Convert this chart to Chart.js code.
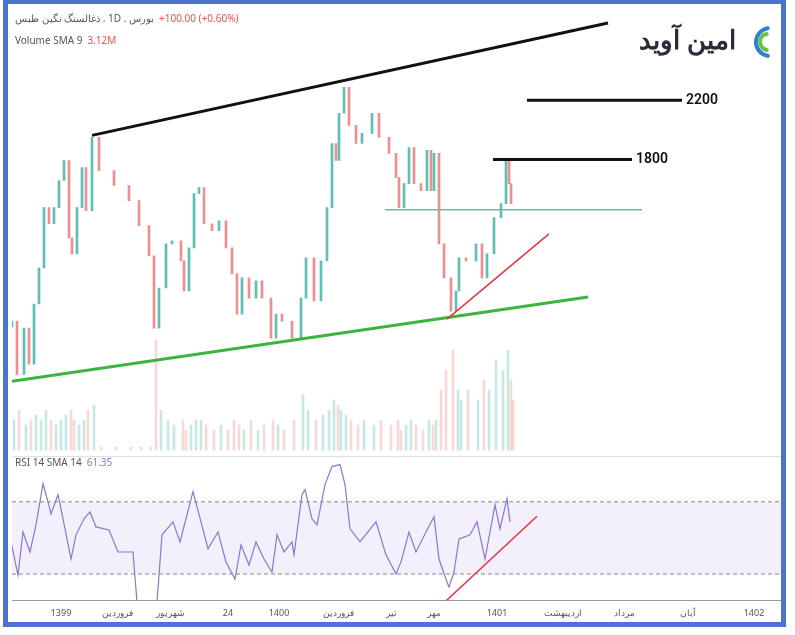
<!DOCTYPE html>
<html lang="fa">
<head>
<meta charset="UTF-8">
<title>ذغالسنگ نگین طبس</title>
<style>
  html, body { margin: 0; padding: 0; background: #fff; }
  #wrap { position: relative; width: 795px; height: 635px; }
  #frame { position: absolute; left: 3px; top: 0; width: 783px; height: 627px; border: 5px solid #4a74d0; border-top-width: 4px; pointer-events: none; box-sizing: border-box; }
</style>
</head>
<body>
<div id="wrap">
  <canvas id="myChart01" width="795" height="635"></canvas>
  <div id="frame"></div>
</div>
<script src="https://cdn.jsdelivr.net/npm/chart.js"></script>
<script>
// روزها (موقعیت افقی) و قیمت پایانی
var candleDays = [13,18,25,30,35,40,45,50,55,60,65,70,73,78,83,87,93,100,115,130,140,150,155,160,167,173,182,185,190,195,200,205,213,220,227,233,238,243,250,257,263,272,277,283,293,302,307,315,322,328,333,337,340,345,350,357,363,373,380,390,397,400,405,410,415,422,428,432,435,440,445,452,457,460,467,477,483,488,495,502,507,510,512];
var closes = [708,349,661,417,824,1068,1475,1366,1475,1658,1793,1271,1163,1475,1746,1454,1949,1725,1624,1522,1353,1149,661,932,1230,1251,1115,912,1203,1569,1610,1366,1319,1386,1203,1027,756,1000,864,980,864,593,756,708,593,864,1136,844,1115,1475,1908,1793,2112,2288,2030,1908,1976,2112,1949,1841,1678,1475,1637,1881,1637,1590,1861,1590,1841,1230,1000,776,912,1136,1115,1230,1000,1163,1407,1502,1793,1637,1502];
// حجم (میلیون)
var volumes = [3,4,2.5,3,3.5,3,4,3,2.5,3,3.5,4,3,2.5,3,4,4.5,0.3,0.3,0.3,0.3,0.3,11,4,3,2.5,3,2,2.5,3,3,2.5,2,2.5,2,3,2.5,2,3,2,2.5,3,2.5,2,3,5.5,4,3,3.5,4,5,4.5,4,3.5,3,2.5,3,2.5,3,2.5,3,2,2.5,3,2.5,2,3,2.5,3,6,8,10,6,5,6,5,7,6,9,8,10,7,5];
// RSI
var rsiDays = [11,18,23,30,36,43,48,51,58,63,71,76,84,90,96,109,118,133,137,142,157,162,173,180,193,201,208,218,226,235,241,249,256,264,272,277,284,292,294,302,305,312,317,325,332,340,345,350,360,376,386,396,401,409,416,426,434,439,447,449,454,459,470,477,485,495,500,507,510];
var rsiValues = [47.8,29.4,53.3,42.2,57.2,80,70,63.3,73.9,60.6,38.3,51.7,60.6,64.4,56.1,54.4,42.2,42.2,14.4,8.9,14.4,51.7,58.9,47.8,75.6,58.9,43.9,53.3,36.7,27.2,46.1,35,47.8,38.3,31.1,51.7,42.2,47.8,40.6,73.9,76.7,60.6,57.2,79.5,89.5,90.6,79.5,55,47.8,58.9,40.6,30,36.7,53.3,42.2,53.3,61.7,38.3,25.6,22.8,31.1,49.4,51.7,58.9,38.3,68.3,55,71.7,58.9];
// برچسب‌های محور زمان
var tickDays = [61,117,170,228,279,338,391,434,497,563,624,688,754];
var tickLabels = ['1399','فروردین','شهریور','24','1400','فروردین','تیر','مهر','1401','اردیبهشت','مرداد','آبان','1402'];
// خطوط تحلیلی [x1, y1, x2, y2]
var upperTrend = [92,1963,608,2722];
var level2200 = [527,2200,682,2200];
var level1800 = [493,1800,632,1800];
var supportLine = [385,1461,642,1461];
var redTrend = [447,722,549,1298];
var greenTrend = [12,302,588,871];
var rsiRedTrend = [440,12,537,62];
var yellowDays = [160,295,437];
var yellowPrices = [946,736,1569];

var UP = '#5fbfb3', DOWN = '#ef8e8e';

var candleData = [], candleColors = [], volData = [], volColors = [];
candleDays.forEach(function (d, i) {
    var open = i == 0 ? closes[0] - 40 : closes[i - 1];
    var up = closes[i] >= open;
    candleData.push({ x: d, y: [open, closes[i]] });
    candleColors.push(up ? UP : DOWN);
    volData.push({ x: d, y: volumes[i] });
    volColors.push(up ? 'rgba(95,191,179,0.35)' : 'rgba(239,142,142,0.35)');
});

function seg(s, color, width, axis) {
    return {
        type: 'line', yAxisID: axis || 'y',
        data: [{ x: s[0], y: s[1] }, { x: s[2], y: s[3] }],
        borderColor: color, borderWidth: width, pointRadius: 0, order: 0
    };
}

function pair(c, x, y, t1, col1, t2, col2, rtl) {
    var w = c.measureText(t1).width;
    c.fillStyle = col1;
    if (rtl) {
        c.direction = 'rtl'; c.textAlign = 'right';
        c.fillText(t1, x + w, y);
        c.direction = 'ltr'; c.textAlign = 'left';
    } else {
        c.fillText(t1, x, y);
    }
    c.fillStyle = col2; c.fillText(t2, x + w + 5, y);
}

var panelPlugin = {
    id: 'panel',
    beforeDatasetsDraw: function (chart) {
        var c = chart.ctx, a = chart.chartArea, r = chart.scales.yr;
        var y70 = r.getPixelForValue(70), y30 = r.getPixelForValue(30);
        c.save();
        c.fillStyle = '#f3effb';
        c.fillRect(a.left, y70, a.right - a.left, y30 - y70);
        c.strokeStyle = '#888'; c.setLineDash([4, 3]); c.lineWidth = 1;
        [y70, y30].forEach(function (y) { c.beginPath(); c.moveTo(a.left, y); c.lineTo(a.right, y); c.stroke(); });
        c.setLineDash([]);
        c.strokeStyle = '#ddd';
        c.beginPath(); c.moveTo(a.left, r.top); c.lineTo(a.right, r.top); c.stroke();
        c.restore();
    },
    afterDraw: function (chart) {
        var c = chart.ctx, p = chart.scales.y, xs = chart.scales.x;
        c.save();
        c.textBaseline = 'middle'; c.textAlign = 'left';
        c.font = '10px "Noto Sans", sans-serif';
        pair(c, 15, 19, 'بورس . 1D . ذغالسنگ نگین طبس', '#555', '+100.00 (+0.60%)', '#ef5350', true);
        pair(c, 15, 41, 'Volume SMA 9', '#555', '3.12M', '#ef5350');
        pair(c, 15, 463, 'RSI 14 SMA 14', '#555', '61.35', '#8a78d0');
        c.fillStyle = '#111'; c.font = '600 14px Roboto, sans-serif';
        c.fillText('2200', xs.getPixelForValue(686), p.getPixelForValue(2200));
        c.fillText('1800', xs.getPixelForValue(636), p.getPixelForValue(1800));
        // لوگو
        c.direction = 'rtl'; c.textAlign = 'right';
        c.fillStyle = '#2b2b3a'; c.font = 'bold 26px "Noto Sans", sans-serif';
        c.fillText('امین آوید', 736, 42);
        c.direction = 'ltr';
        c.lineWidth = 4; c.lineCap = 'round';
        c.strokeStyle = '#2e7fd6';
        c.beginPath(); c.arc(770, 42, 14, Math.PI * 0.55, Math.PI * 1.45); c.stroke();
        c.strokeStyle = '#6cc04a';
        c.beginPath(); c.arc(768, 42, 8, Math.PI * 0.55, Math.PI * 1.45); c.stroke();
        c.restore();
    }
};

var datasets = [
    seg(upperTrend, '#111', 3), seg(level2200, '#111', 3), seg(level1800, '#111', 3),
    seg(supportLine, '#6ab8ae', 1.5), seg(redTrend, '#e8343f', 1.5), seg(greenTrend, '#3db43d', 3),
    seg(rsiRedTrend, '#e8343f', 1.5, 'yr'),
    {
        type: 'scatter', data: yellowDays.map(function (d, i) { return { x: d, y: yellowPrices[i] }; }),
        pointRadius: 3, pointBackgroundColor: '#f5c518', pointBorderWidth: 0, order: 0
    },
    {
        type: 'bar', data: candleData, backgroundColor: candleColors,
        barThickness: 2, yAxisID: 'y', order: 2
    },
    {
        type: 'bar', data: volData, backgroundColor: volColors,
        barThickness: 2, yAxisID: 'yv', order: 3
    },
    {
        type: 'line', data: rsiDays.map(function (d, i) { return { x: d, y: rsiValues[i] }; }),
        borderColor: '#8a78d0', borderWidth: 1.2, pointRadius: 0, yAxisID: 'yr', order: 1
    }
];

var chart01 = new Chart(document.getElementById('myChart01'), {
    data: { datasets: datasets },
    options: {
        responsive: false, animation: false,
        layout: { padding: { left: 12, right: 10, top: 20, bottom: 8 } },
        plugins: { legend: { display: false }, tooltip: { enabled: false } },
        scales: {
            x: {
                type: 'linear', min: 12, max: 785, offset: false,
                grid: { display: false, drawTicks: false, offset: false },
                border: { color: '#999' },
                afterBuildTicks: function (ax) { ax.ticks = tickDays.map(function (v) { return { value: v }; }); },
                ticks: {
                    autoSkip: false, maxRotation: 0, padding: 8, color: '#555',
                    font: { size: 9, family: '"Noto Sans", sans-serif' },
                    callback: function (v) { return tickLabels[tickDays.indexOf(v)]; }
                }
            },
            yr: { display: false, stack: 'p', stackWeight: 143, min: 15.5, max: 95 },
            y: { display: false, stack: 'p', stackWeight: 435, min: -207, max: 2742 },
            yv: { display: false, min: -15, max: 43 }
        }
    },
    plugins: [panelPlugin]
});
</script>
</body>
</html>
